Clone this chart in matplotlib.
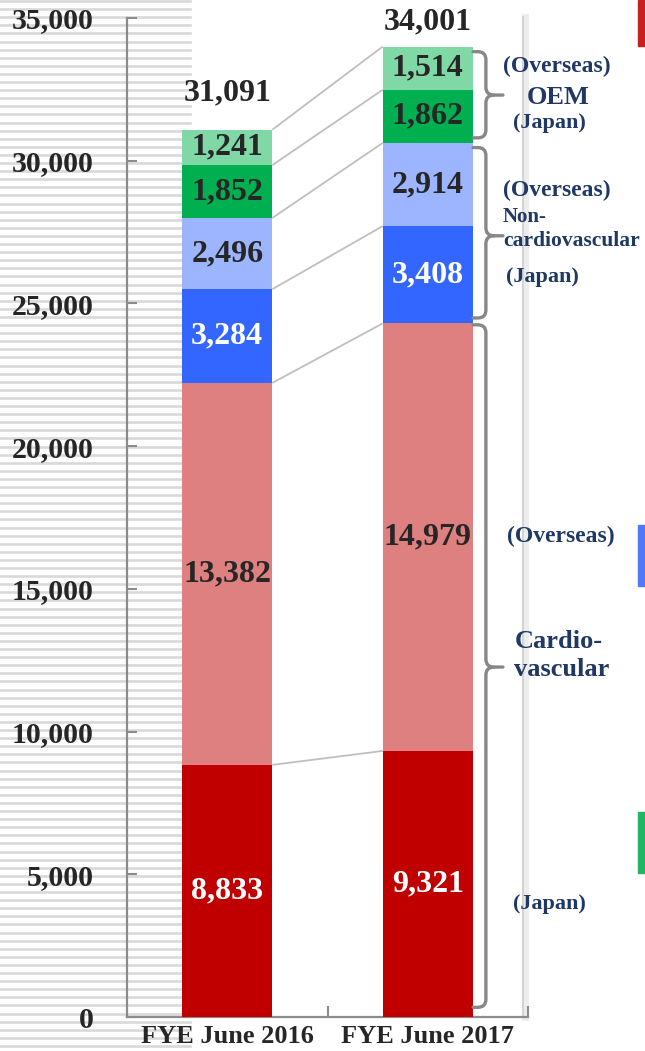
import matplotlib
matplotlib.use("Agg")
import matplotlib.pyplot as plt
from matplotlib.lines import Line2D
from matplotlib.patches import Rectangle, PathPatch
from matplotlib.path import Path
import numpy as np

# ---------------- data ----------------
categories = ["FYE June 2016", "FYE June 2017"]
segment_names = ["Cardio Japan", "Cardio Overseas", "NonCardio Japan",
                 "NonCardio Overseas", "OEM Japan", "OEM Overseas"]
cardio_japan = [8833, 9321]
cardio_overseas = [13382, 14979]
noncardio_japan = [3284, 3408]
noncardio_overseas = [2496, 2914]
oem_japan = [1852, 1862]
oem_overseas = [1241, 1514]
totals = [31091, 34001]
yticks = [0, 5000, 10000, 15000, 20000, 25000, 30000, 35000]

# bracket spans (top, bottom, middle) in data units
bracket_tops = [33820, 30460, 24250]
bracket_bottoms = [30800, 24490, 340]
bracket_mids = [32300, 27370, 12260]

# ---------------- style ----------------
W, H = 645, 1051
FONT = "Liberation Serif"
plt.rcParams["font.family"] = [FONT, "DejaVu Serif"]
plt.rcParams["font.weight"] = "bold"

seg_colors = ["#C00000", "#DF8080", "#3366FF", "#9DB4FF", "#00B050", "#80D8A6"]
seg_text_colors = ["white", "#262626", "white", "#262626", "#262626", "#262626"]
navy = "#1F3864"
dark = "#262626"
axis_gray = "#8C8C8C"

fig = plt.figure(figsize=(W / 100, H / 100), dpi=100)
fig.patch.set_facecolor("white")


def fx(x):
    return x / W


def fy(y):
    return 1 - y / H


# striped background on the left
for y in np.arange(1.0, H, 8.1):
    fig.add_artist(Line2D([0, fx(190)], [fy(y), fy(y)], transform=fig.transFigure,
                          color="#D9D9D9", lw=1.9, zorder=0))

ax_left, ax_right, ax_top, ax_bottom = 127, 528, 18, 1017
ax = fig.add_axes([fx(ax_left), fy(ax_bottom), (ax_right - ax_left) / W,
                   (ax_bottom - ax_top) / H])
ax.patch.set_alpha(0)
ax.set_zorder(2)

# panel right border with shadow
fig.add_artist(Line2D([fx(525), fx(525)], [fy(17), fy(1017)], transform=fig.transFigure,
                      color="#EDEDED", lw=5, zorder=1))
fig.add_artist(Line2D([fx(523), fx(523)], [fy(17), fy(1017)], transform=fig.transFigure,
                      color="#D4D4D4", lw=1.5, zorder=1))

series = [cardio_japan, cardio_overseas, noncardio_japan, noncardio_overseas,
          oem_japan, oem_overseas]
x = np.arange(len(categories))
bw = 0.45
bottom = np.zeros(len(categories))
bounds = []
for vals, col, tcol in zip(series, seg_colors, seg_text_colors):
    vals = np.array(vals, dtype=float)
    ax.bar(x, vals, bw, bottom=bottom, color=col, zorder=3, linewidth=0)
    for xi, b, v in zip(x, bottom, vals):
        ax.text(xi, b + v / 2, f"{int(v):,}", ha="center", va="center",
                fontsize=23, fontweight="bold", color=tcol, zorder=5)
    bottom = bottom + vals
    bounds.append(bottom.copy())

# connecting lines between bars
for bnd in bounds:
    ax.plot([x[0] + bw / 2, x[1] - bw / 2], [bnd[0], bnd[1]], color="#BFBFBF",
            lw=1.3, zorder=2, solid_capstyle="butt")

# totals
total_offsets = [16, 7]
for xi, t, off in zip(x, totals, total_offsets):
    ax.annotate(f"{t:,}", (xi, t), xytext=(0, off), textcoords="offset points",
                ha="center", va="bottom", fontsize=23, fontweight="bold", color=dark)

ax.set_xlim(-0.5, 1.5)
ax.set_ylim(0, 35000)
ax.set_yticks(yticks)
ax.set_yticklabels([f"{v:,}" for v in yticks], fontsize=21.5, fontweight="bold", color=dark)
ax.set_xticks(x)
ax.set_xticklabels(categories, fontsize=19, fontweight="bold", color=dark)
ax.set_xticks([0.5, 1.5], minor=True)
ax.tick_params(axis="x", which="major", length=0, pad=6)
ax.tick_params(axis="x", which="minor", length=8, direction="in", color=axis_gray, width=1.5)
ax.tick_params(axis="y", length=7, direction="in", color=axis_gray, width=1.5, pad=24)
for s in ["top", "right"]:
    ax.spines[s].set_visible(False)
for s in ["left", "bottom"]:
    ax.spines[s].set_color(axis_gray)
    ax.spines[s].set_linewidth(1.6)

# brackets
bx, hook_x, point_x = 1.29, 1.226, 1.375
rx, ry = 0.04, 280
for top, bot, mid in zip(bracket_tops, bracket_bottoms, bracket_mids):
    verts = [(hook_x, top), (bx - rx, top), (bx, top), (bx, top - ry),
             (bx, mid + ry), (bx, mid), (bx + rx, mid),
             (point_x, mid)]
    codes = [Path.MOVETO, Path.LINETO, Path.CURVE3, Path.CURVE3,
             Path.LINETO, Path.CURVE3, Path.CURVE3, Path.LINETO]
    ax.add_patch(PathPatch(Path(verts, codes), fill=False, ec="#878787", lw=2.4,
                           clip_on=False, zorder=4, capstyle="round"))
    verts2 = [(bx + rx, mid), (bx, mid), (bx, mid - ry), (bx, bot + ry),
              (bx, bot), (bx - rx, bot), (hook_x, bot)]
    codes2 = [Path.MOVETO, Path.CURVE3, Path.CURVE3, Path.LINETO,
              Path.CURVE3, Path.CURVE3, Path.LINETO]
    ax.add_patch(PathPatch(Path(verts2, codes2), fill=False, ec="#878787", lw=2.4,
                           clip_on=False, zorder=4, capstyle="round"))

# right-side labels
labels = [
    ("(Overseas)", 557, 66, 17, "center"),
    ("OEM", 558, 97, 19, "center"),
    ("(Japan)", 549, 123, 16, "center"),
    ("(Overseas)", 557, 190, 17, "center"),
    ("Non-", 503, 217, 15, "left"),
    ("cardiovascular", 503, 241, 15.5, "left"),
    ("(Japan)", 542, 277, 16, "center"),
    ("(Overseas)", 561, 536, 17, "center"),
    ("Cardio-", 559, 642, 19, "center"),
    ("vascular", 562, 670, 19, "center"),
    ("(Japan)", 549, 904, 16, "center"),
]
for txt, px, py, fs, ha in labels:
    fig.text(fx(px), fy(py), txt, ha=ha, va="center", fontsize=fs,
             fontweight="bold", color=navy, zorder=6)

# partial slide decorations at right edge
for (x0, y0, y1, col) in [(638, 0, 46, "#C82020"), (638, 525, 586, "#5078F8"),
                          (638, 812, 873, "#22B563")]:
    fig.add_artist(Rectangle((fx(x0), fy(y1)), fx(W - x0 + 2), (y1 - y0) / H,
                             transform=fig.transFigure, color=col, zorder=1))

fig.savefig("out.png", dpi=100)
